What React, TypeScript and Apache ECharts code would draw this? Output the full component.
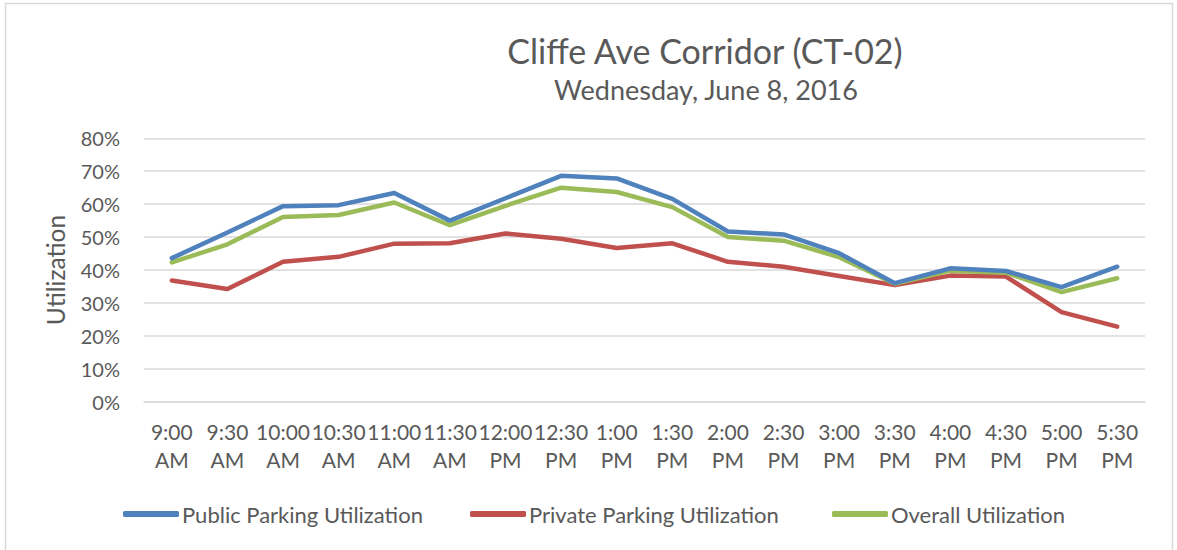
import React, { useEffect, useRef } from "react";
import * as echarts from "echarts";

const categories = [
  "9:00\nAM", "9:30\nAM", "10:00\nAM", "10:30\nAM", "11:00\nAM", "11:30\nAM",
  "12:00\nPM", "12:30\nPM", "1:00\nPM", "1:30\nPM", "2:00\nPM", "2:30\nPM",
  "3:00\nPM", "3:30\nPM", "4:00\nPM", "4:30\nPM", "5:00\nPM", "5:30\nPM",
];

const publicUtil = [43.6, 51.4, 59.4, 59.7, 63.4, 55.0, 61.8, 68.6, 67.8, 61.6, 51.7, 50.8, 45.1, 36.0, 40.5, 39.7, 34.8, 41.0];
const privateUtil = [36.8, 34.2, 42.5, 44.0, 48.0, 48.1, 51.1, 49.5, 46.7, 48.1, 42.5, 41.0, 38.2, 35.4, 38.3, 38.0, 27.2, 22.8];
const overallUtil = [42.3, 47.8, 56.1, 56.7, 60.5, 53.6, 59.5, 65.0, 63.7, 59.1, 50.0, 48.9, 43.9, 35.8, 39.8, 39.2, 33.3, 37.5];

const seriesNames = ["Public Parking Utilization", "Private Parking Utilization", "Overall Utilization"];
const seriesColors = ["#4f81bd", "#c0504d", "#9bbb59"];

const FONT = "Lato, 'Open Sans', sans-serif";
const TEXT = "#595959";

export default function App() {
  const ref = useRef<HTMLDivElement>(null);
  useEffect(() => {
    if (!ref.current) return;
    const chart = echarts.init(ref.current, null, { renderer: "svg" });
    const data = [publicUtil, privateUtil, overallUtil];
    const legendLefts = [118, 465, 827];
    chart.setOption({
      animation: false,
      backgroundColor: "#ffffff",
      textStyle: { fontFamily: FONT, color: TEXT },
      title: [
        {
          text: "Cliffe Ave Corridor (CT-02)",
          left: 700,
          top: 28,
          textAlign: "center",
          textStyle: { fontFamily: FONT, fontSize: 34, fontWeight: "normal", color: TEXT },
        },
        {
          text: "Wednesday, June 8, 2016",
          left: 701,
          top: 71,
          textAlign: "center",
          textStyle: { fontFamily: FONT, fontSize: 27, fontWeight: "normal", color: TEXT },
        },
      ],
      graphic: [
        {
          type: "rect",
          shape: { x: 5.5, y: 3.5, width: 1167, height: 560 },
          style: { fill: "none", stroke: "#d9d9d9", lineWidth: 1.5 },
          silent: true,
        },
      ],
      legend: seriesNames.map((n, i) => ({
        data: [n],
        left: legendLefts[i],
        top: 498,
        icon: "roundRect",
        itemWidth: 56,
        itemHeight: 6,
        itemGap: 0,
        textStyle: { fontFamily: FONT, fontSize: 22, color: TEXT, padding: [0, 0, 0, -2] },
      })),
      grid: { left: 144, right: 32, top: 138.3, bottom: 148.3, containLabel: false },
      xAxis: {
        type: "category",
        data: categories,
        boundaryGap: true,
        axisLine: { show: true, lineStyle: { color: "#d9d9d9", width: 1.5 } },
        axisTick: { show: false },
        axisLabel: {
          interval: 0,
          margin: 16,
          fontFamily: FONT,
          fontSize: 21,
          lineHeight: 28,
          color: TEXT,
        },
      },
      yAxis: {
        type: "value",
        min: 0,
        max: 80,
        interval: 10,
        name: "Utilization",
        nameLocation: "middle",
        nameGap: 76,
        nameRotate: 90,
        nameTextStyle: { fontFamily: FONT, fontSize: 24.5, color: TEXT },
        axisLine: { show: false },
        axisTick: { show: false },
        axisLabel: {
          formatter: "{value}%",
          margin: 24,
          fontFamily: FONT,
          fontSize: 20,
          color: TEXT,
        },
        splitLine: { lineStyle: { color: "#d9d9d9", width: 1.5 } },
      },
      series: seriesNames.map((n, i) => ({
        name: n,
        type: "line",
        data: data[i],
        symbol: "none",
        showSymbol: false,
        itemStyle: { color: seriesColors[i] },
        lineStyle: { color: seriesColors[i], width: 4.5, cap: "round", join: "round" },
        z: i === 1 ? 2 : i === 2 ? 3 : 4,
      })),
    });
    return () => chart.dispose();
  }, []);
  return (
    <div
      ref={ref}
      style={{ position: "fixed", left: 0, top: 0, width: 1177, height: 550 }}
    />
  );
}
